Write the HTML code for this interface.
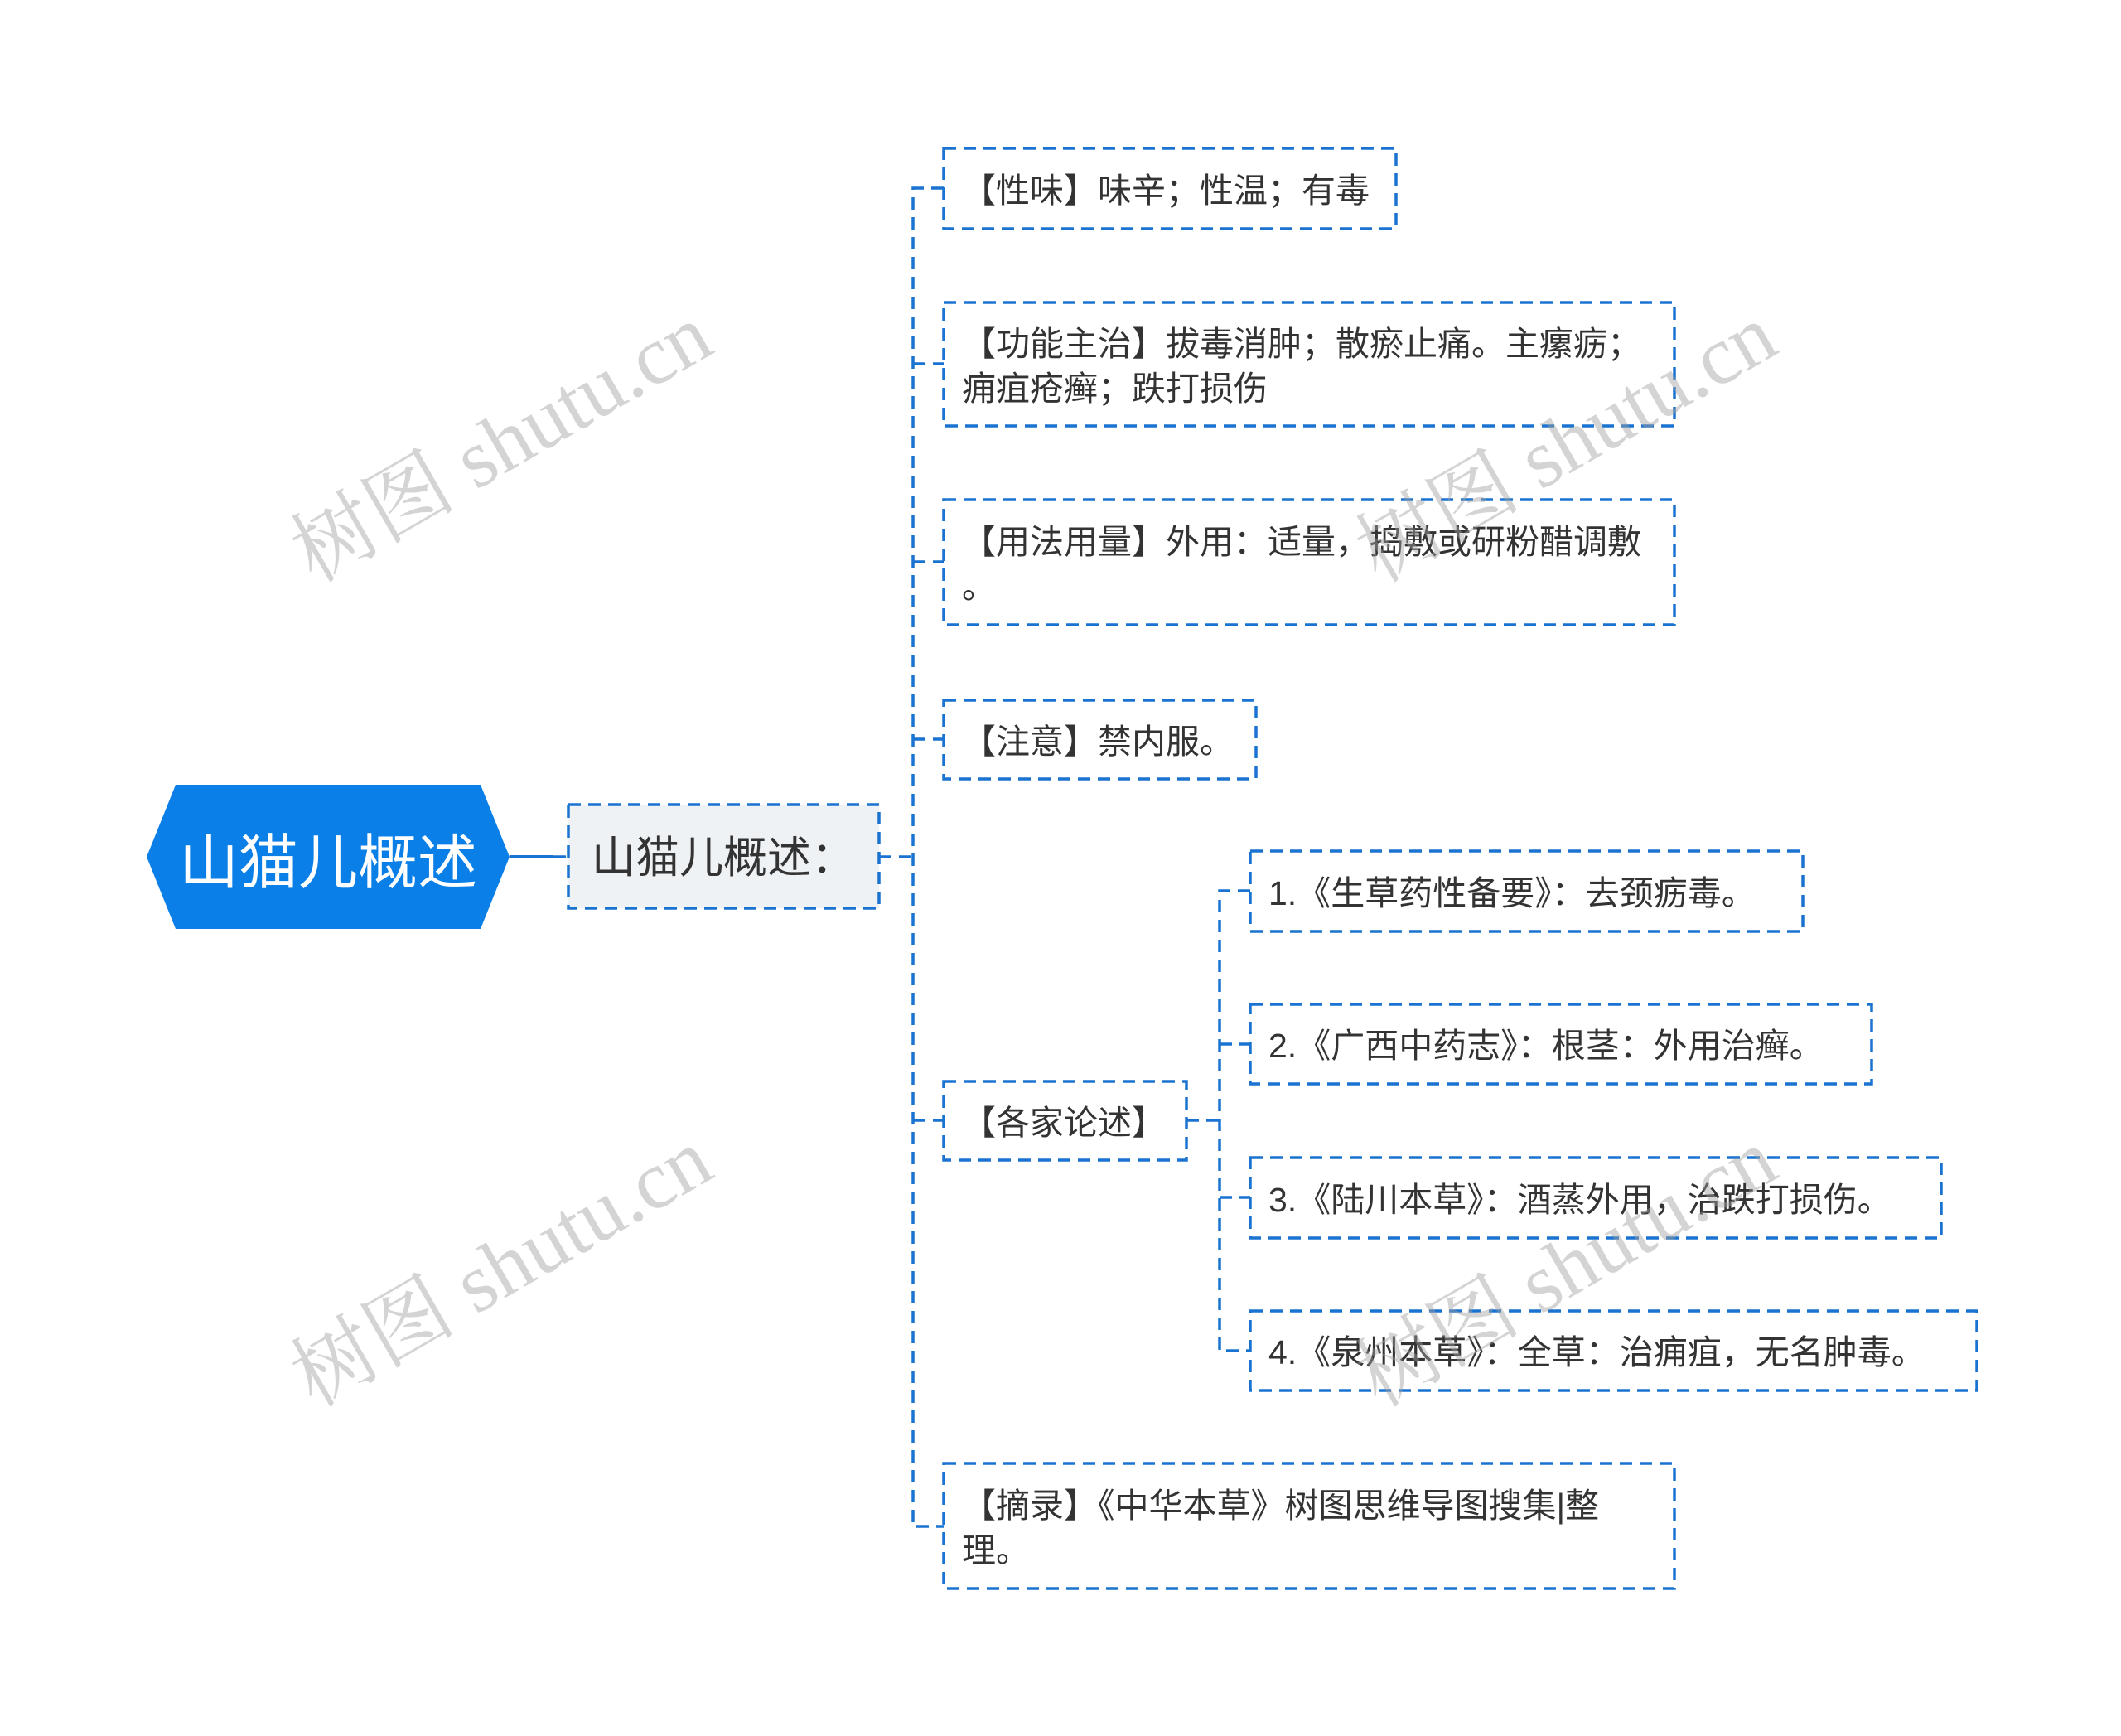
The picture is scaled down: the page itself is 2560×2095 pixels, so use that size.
<!DOCTYPE html>
<html><head><meta charset="utf-8"><style>
html,body{margin:0;padding:0;background:#fff;}
body{width:2560px;height:2095px;position:relative;overflow:hidden;font-family:"Liberation Sans","Noto Sans CJK SC",sans-serif;}
.n{position:absolute;box-sizing:border-box;color:#333;font-size:41px;line-height:54px;padding:4px 22px 0;display:flex;align-items:center;white-space:nowrap;}
.wm{position:absolute;font-family:"Liberation Serif","Noto Serif CJK SC",serif;font-size:100px;color:rgba(160,160,160,0.45);transform:rotate(-30deg);transform-origin:center;white-space:nowrap;}
</style></head><body>
<svg width="2560" height="2095" style="position:absolute;left:0;top:0">
<polygon points="212,947 580,947 615,1034 580,1121 212,1121 177,1034" fill="#0a7fe8"/>
<line x1="615" y1="1034" x2="668" y2="1034" stroke="#1a73d0" stroke-width="4"/>
<rect x="686" y="971" width="375" height="125" fill="#eef2f5"/>
<g stroke="#1a73d0" stroke-width="3.5" stroke-dasharray="15,9" fill="none">
<rect x="686" y="971" width="375" height="125"/>
<rect x="1139" y="179" width="546" height="97"/>
<rect x="1139" y="365" width="882" height="149"/>
<rect x="1139" y="603" width="882" height="151"/>
<rect x="1139" y="845" width="377" height="95"/>
<rect x="1139" y="1305" width="293" height="95"/>
<rect x="1139" y="1766" width="882" height="151"/>
<rect x="1509" y="1027" width="667" height="97"/>
<rect x="1509" y="1212" width="750" height="96"/>
<rect x="1509" y="1397" width="834" height="97"/>
<rect x="1509" y="1582" width="877" height="96"/>
<line x1="668" y1="1034" x2="686" y2="1034"/>
<line x1="1061" y1="1034" x2="1102" y2="1034"/>
<path d="M1139,227 H1102 V1842 H1139"/>
<line x1="1102" y1="439" x2="1139" y2="439"/>
<line x1="1102" y1="678" x2="1139" y2="678"/>
<line x1="1102" y1="892" x2="1139" y2="892"/>
<line x1="1102" y1="1352" x2="1139" y2="1352"/>
<line x1="1432" y1="1352" x2="1472" y2="1352"/>
<path d="M1509,1075 H1472 V1630 H1509"/>
<line x1="1472" y1="1260" x2="1509" y2="1260"/>
<line x1="1472" y1="1445" x2="1509" y2="1445"/>
</g>
</svg>
<div style="position:absolute;left:177px;top:947px;width:438px;height:174px;display:flex;align-items:center;justify-content:center;color:#fff;font-size:72px;">山猫儿概述</div>
<div class="n" style="left:686px;top:971px;width:375px;height:125px;font-size:53px;padding-left:28px;">山猫儿概述：</div>
<div class="n" style="left:1139px;top:179px;width:546px;height:97px;">【性味】味辛；性温；有毒</div>
<div class="n" style="left:1139px;top:365px;width:882px;height:149px;">【功能主治】拔毒消肿；散瘀止痛。主瘰疬；<br>痈疽疮癣；跌打损伤</div>
<div class="n" style="left:1139px;top:603px;width:882px;height:151px;">【用法用量】外用：适量，捣敷或研粉醋调敷<br>。</div>
<div class="n" style="left:1139px;top:845px;width:377px;height:95px;">【注意】禁内服。</div>
<div class="n" style="left:1139px;top:1305px;width:293px;height:95px;">【各家论述】</div>
<div class="n" style="left:1139px;top:1766px;width:882px;height:151px;">【摘录】《中华本草》树图思维导图搜集|整<br>理。</div>
<div class="n" style="left:1509px;top:1027px;width:667px;height:97px;">1.《生草药性备要》：去颈疬毒。</div>
<div class="n" style="left:1509px;top:1212px;width:750px;height:96px;">2.《广西中药志》：根茎：外用治癣。</div>
<div class="n" style="left:1509px;top:1397px;width:834px;height:97px;">3.《陆川本草》：酒蒸外用，治跌打损伤。</div>
<div class="n" style="left:1509px;top:1582px;width:877px;height:96px;">4.《泉州本草》：全草：治痈疽，无名肿毒。</div>
<div class="wm" style="left:320px;top:455px;">树图 shutu.cn</div>
<div class="wm" style="left:1605px;top:455px;">树图 shutu.cn</div>
<div class="wm" style="left:320px;top:1450px;">树图 shutu.cn</div>
<div class="wm" style="left:1605px;top:1450px;">树图 shutu.cn</div>
</body></html>
